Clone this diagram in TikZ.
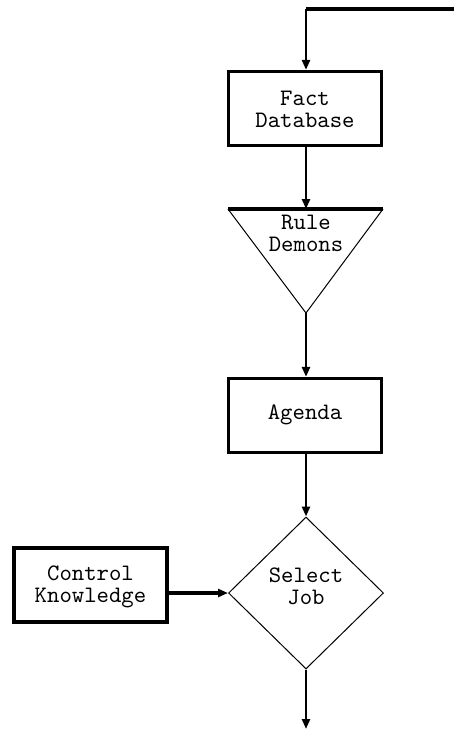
\documentclass[tikz,border=0pt]{standalone}
\usetikzlibrary{arrows.meta,shapes.geometric}
\newcommand\lbltext[1]{\scalebox{2.36}{\ttfamily\fontsize{10}{9.1}\selectfont\begin{tabular}{@{}c@{}}#1\end{tabular}}}
\begin{document}
\begin{tikzpicture}[x=1pt,y=-1pt,
  lbl/.style={inner sep=0pt},
  boxnode/.style={draw, line width=3.3pt, minimum width=153pt, minimum height=74pt, inner sep=0pt},
  thickline/.style={line width=3.3pt},
  thinline/.style={line width=1pt},
  arr/.style={line width=2.8pt, -{Triangle[length=10pt,width=8pt]}}
]
\useasboundingbox (0,0) rectangle (454,729);

% Shapes
\coordinate (topright) at (456,9);
\coordinate (topleft) at (306,9);
\node[boxnode] (fact) at (305,108.5) {};
\node[lbl] (factlbl) at (305,112.4) {\lbltext{Fact\\Database}};

\coordinate (triL) at (228,209);
\coordinate (triR) at (383,209);
\coordinate (tritop) at (306,209);
\coordinate (triapex) at (306,313);
\draw[thinline] (triL) -- (triapex) -- (triR);
\draw[thickline] (triL) -- (triR);
\node[lbl] (rule) at (306,236.4) {\lbltext{Rule\\Demons}};

\node[boxnode] (agenda) at (305,415.5) {\lbltext{Agenda}};

\node[draw, thinline, diamond, minimum width=155pt, minimum height=152pt, inner sep=0pt] (select) at (306,593) {};
\node[lbl] (selectlbl) at (306,589.4) {\lbltext{Select\\Job}};

\node[boxnode] (control) at (90.5,585) {};
\node[lbl] (controllbl) at (90.5,587.4) {\lbltext{Control\\Knowledge}};

\coordinate (bottom) at (306,729);

% Connectors
\draw[thickline] (topright) -- (topleft);
\draw[arr] (topleft) -- (fact.north -| topleft);
\draw[arr] (fact.south -| tritop) -- (tritop);
\draw[arr] (triapex) -- (agenda.north -| triapex);
\draw[arr] (agenda.south -| select.north) -- (select.north);
\draw[arr] (select.south) -- (bottom);
\draw[arr, line width=3.6pt] (control.east |- select.west) -- (select.west);
\end{tikzpicture}
\end{document}
